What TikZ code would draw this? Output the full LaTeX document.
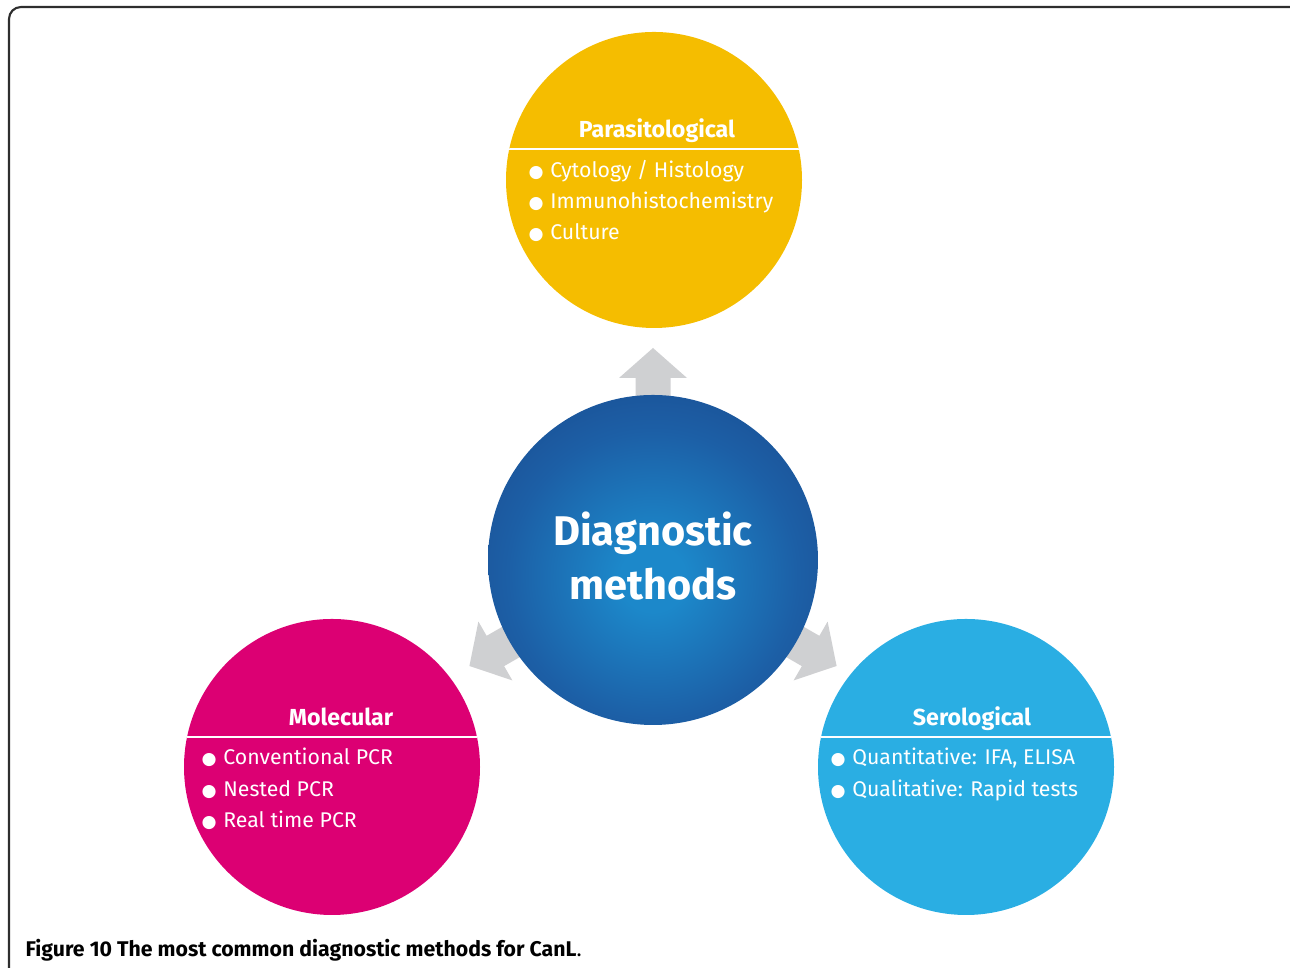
\documentclass[tikz,border=0pt]{standalone}
\usepackage{fontspec}
\setmainfont{Fira Sans}
\newfontfamily\dotfont{DejaVu Sans}
\usetikzlibrary{calc}

\definecolor{parayellow}{HTML}{F5BD00}
\definecolor{molmagenta}{HTML}{DC0073}
\definecolor{serocyan}{HTML}{2AAEE3}
\definecolor{arrowgray}{HTML}{CFD0D2}
\definecolor{diagdark}{HTML}{1A4689}
\definecolor{diagmid}{HTML}{1C5FA6}
\definecolor{diaglight}{HTML}{1C88CA}
\definecolor{framegray}{HTML}{2E2E2E}

\pgfdeclareradialshading{diagglow}{\pgfpoint{0bp}{-3bp}}{%
  color(0bp)=(diaglight); color(5bp)=(diaglight); color(22bp)=(diagmid);
  color(38bp)=(diagdark); color(100bp)=(diagdark)}

\newcommand{\dotitem}{{\dotfont\fontsize{4.9}{6}\selectfont ●}\hspace{1.9pt}}

\begin{document}
\begin{tikzpicture}[x=1cm,y=1cm,
    method/.style 2 args={circle, fill=#1, minimum size=2.96cm, inner sep=0pt,
      path picture={\draw[white, line width=0.5pt]
        ($(path picture bounding box.center)+(-2,#2)$) -- ++(4,0);}},
    heading/.style={text=white, anchor=base, inner sep=0pt,
      font=\bfseries\fontsize{6.6}{7}\selectfont},
    item/.style={text=white, anchor=base west, inner sep=0pt,
      font=\fontsize{6.05}{7}\selectfont}]
    \useasboundingbox (0,0) rectangle (12.9,9.68);

    % Frame
    \draw[framegray, line width=0.6pt, rounded corners=0.12cm] (0.09,-0.3) rectangle (13.2,9.61);

    % Hub and arrows
    \coordinate (hub) at (6.53,4.08);
    \foreach \ang in {90,210,330}
      \fill[arrowgray, shift={(hub)}, rotate=\ang]
        (1.4,-0.175) -- (1.82,-0.175) -- (1.82,-0.34) -- (2.12,0)
        -- (1.82,0.34) -- (1.82,0.175) -- (1.4,0.175) -- cycle;

    \node[circle, shading=diagglow, minimum size=3.3cm, inner sep=0pt] (diag) at (hub) {};
    \node[text=white, align=center, inner sep=0pt,
      font=\bfseries\fontsize{11.8}{15.6}\selectfont] (diag-text) at ($(diag.center)+(0,0.04)$)
      {Diagnostic\\methods};

    % Parasitological
    \node[method={parayellow}{0.31}] (par) at (6.54,7.88) {};
    \node[heading] (par-title) at ($(par.center)+(0.03,0.42)$) {Parasitological};
    \foreach \txt [count=\i] in {Cytology / Histology, Immunohistochemistry, Culture}
      \node[item] (par-\i) at ($(par.center)+(-1.26,{0.02-0.31*(\i-1)})$) {\dotitem\txt};

    % Molecular
    \node[method={molmagenta}{0.30}] (mol) at (3.32,2.01) {};
    \node[heading] (mol-title) at ($(mol.center)+(0.09,0.41)$) {Molecular};
    \foreach \txt [count=\i] in {Conventional PCR, Nested PCR, Real time PCR}
      \node[item] (mol-\i) at ($(mol.center)+(-1.31,{0.02-0.315*(\i-1)})$) {\dotitem\txt};

    % Serological
    \node[method={serocyan}{0.30}] (ser) at (9.66,2.01) {};
    \node[heading] (ser-title) at ($(ser.center)+(0.06,0.41)$) {Serological};
    \foreach \txt [count=\i] in {{Quantitative: IFA, ELISA}, {Qualitative: Rapid tests}}
      \node[item] (ser-\i) at ($(ser.center)+(-1.36,{0.02-0.315*(\i-1)})$) {\dotitem\txt};

    % Caption
    \node[anchor=base west, inner sep=0pt, font=\fontsize{6.05}{7}\selectfont] (caption)
      at (0.25,0.11) {\textbf{Figure 10 The most common diagnostic methods for CanL}.};
\end{tikzpicture}
\end{document}
